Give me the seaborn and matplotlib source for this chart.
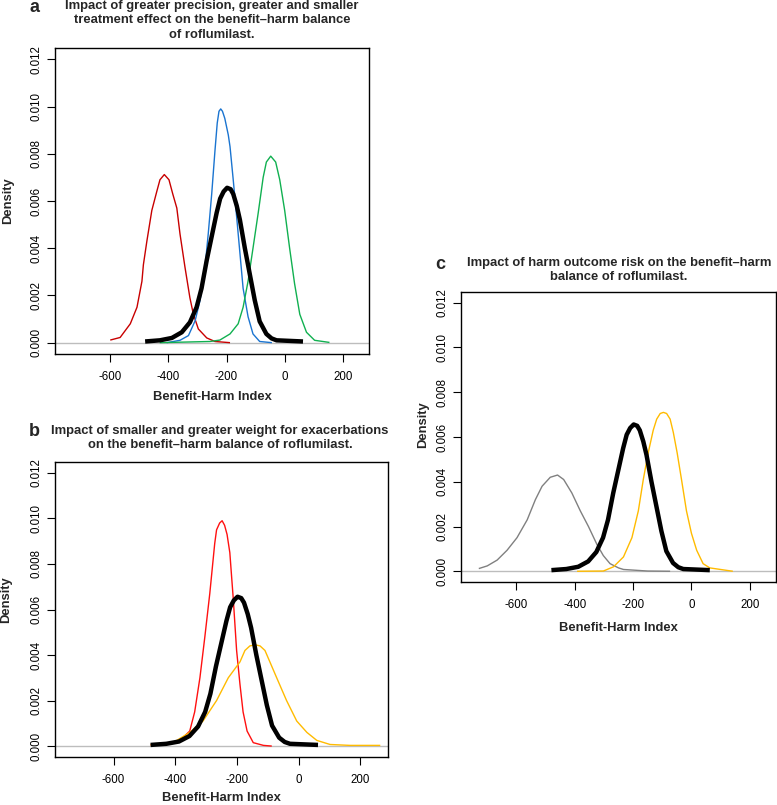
import matplotlib
matplotlib.use("Agg")
import matplotlib.pyplot as plt
import seaborn as sns

# base case density (black, same in every panel)
base_x = [-480, -429, -388, -354, -326, -303, -286, -268, -251, -234, -222, -210, -198,
          -186, -177, -165, -154, -137, -120, -103, -86, -63, -45, -28, 63]
base_y = [0.00005, 0.0001, 0.0002, 0.00044, 0.00086, 0.0015, 0.0023, 0.0035, 0.0045, 0.0055,
          0.0061, 0.0064, 0.00656, 0.0065, 0.0063, 0.0058, 0.0052, 0.0040, 0.0029, 0.0018,
          0.0009, 0.00037, 0.00018, 0.0001, 0.00005]

# panel a
red_a_x = [-600, -566, -531, -508, -491, -486, -474, -457, -440, -429, -414, -398, -385,
           -371, -360, -343, -326, -314, -297, -268, -240, -188]
red_a_y = [0.00011, 0.00022, 0.0008, 0.0015, 0.0026, 0.0033, 0.0043, 0.0056, 0.0064, 0.0069,
           0.00712, 0.0069, 0.0063, 0.0057, 0.0046, 0.0032, 0.0019, 0.0012, 0.00058, 0.0002,
           0.00005, 0.0]
blue_a_x = [-406, -360, -331, -308, -291, -274, -263, -251, -240, -232, -226, -220, -214,
            -206, -194, -188, -177, -165, -154, -143, -126, -109, -86, -44]
blue_a_y = [0.0, 0.0001, 0.0003, 0.00093, 0.0018, 0.0032, 0.0046, 0.0063, 0.0081, 0.0093,
            0.0098, 0.0099, 0.0098, 0.0095, 0.0088, 0.0083, 0.0069, 0.0053, 0.0038, 0.0023,
            0.0011, 0.00037, 0.00005, 0.0]
green_a_x = [-430, -257, -223, -188, -160, -143, -126, -109, -91, -74, -63, -48, -31, -17,
             0, 17, 34, 52, 75, 103, 154]
green_a_y = [0.0, 0.00005, 0.00011, 0.00037, 0.0008, 0.0015, 0.0026, 0.0040, 0.0055, 0.0070,
             0.00765, 0.0079, 0.00765, 0.0069, 0.0056, 0.0040, 0.0025, 0.0012, 0.00044,
             0.0001, 0.00001]

# panel b
red_b_x = [-480, -407, -375, -353, -337, -320, -304, -288, -272, -266, -256, -248, -240,
           -232, -223, -217, -212, -201, -190, -180, -167, -147, -114, -87]
red_b_y = [0.00005, 0.00015, 0.00037, 0.00066, 0.0015, 0.0030, 0.0048, 0.0067, 0.0089,
           0.0095, 0.0098, 0.0099, 0.0097, 0.0093, 0.0085, 0.0074, 0.0065, 0.0042, 0.0027,
           0.0015, 0.00066, 0.00015, 0.00003, 0.0]
yel_b_x = [-480, -407, -353, -310, -266, -228, -190, -174, -158, -141, -125, -109, -90, -71,
           -39, -6, 27, 59, 102, 167, 265]
yel_b_y = [0.00005, 0.00015, 0.0006, 0.0011, 0.0020, 0.0030, 0.0037, 0.0042, 0.0044, 0.00445,
           0.0044, 0.0042, 0.0036, 0.0030, 0.0020, 0.0011, 0.0006, 0.00025, 0.00007, 0.00003,
           0.00003]

# panel c
gray_c_x = [-729, -700, -666, -632, -598, -563, -535, -512, -484, -459, -438, -410, -381,
            -353, -324, -302, -279, -250, -233, -150, -73]
gray_c_y = [0.00012, 0.00024, 0.0005, 0.00094, 0.0015, 0.0023, 0.0032, 0.0038, 0.0042,
            0.0043, 0.0041, 0.0035, 0.0027, 0.0020, 0.0012, 0.0007, 0.00034, 0.00015,
            0.00008, 0.00001, 0.0]
yel_c_x = [-392, -302, -267, -233, -204, -182, -165, -148, -131, -119, -107, -96, -85, -73,
           -62, -49, -34, -17, 0, 18, 40, 63, 142]
yel_c_y = [0.0, 0.00001, 0.0002, 0.00064, 0.0015, 0.0027, 0.0041, 0.0053, 0.0063, 0.0068,
           0.00705, 0.0071, 0.00705, 0.0068, 0.0062, 0.0053, 0.0041, 0.0027, 0.0017, 0.00094,
           0.00034, 0.00015, 0.0]

x_ticks = [-600, -400, -200, 0, 200]
y_ticks = [0.0, 0.002, 0.004, 0.006, 0.008, 0.010, 0.012]

titles = {
    "a": "Impact of greater precision, greater and smaller\ntreatment effect on the benefit\u2013harm balance\nof roflumilast.",
    "b": "Impact of smaller and greater weight for exacerbations\non the benefit\u2013harm balance of roflumilast.",
    "c": "Impact of harm outcome risk on the benefit\u2013harm\nbalance of roflumilast.",
}

sns.set_style("white")
plt.rcParams["font.family"] = ["Liberation Sans", "DejaVu Sans"]

W, H = 777, 805
fig = plt.figure(figsize=(W / 100, H / 100), dpi=100)


def px_axes(left, top, right, bottom):
    return fig.add_axes([left / W, 1 - bottom / H, (right - left) / W, (bottom - top) / H])


def ftext(x, y, s, **kw):
    fig.text(x / W, 1 - y / H, s, **kw)


def style_axes(ax):
    ax.set_xlim(-790, 290)
    ax.set_ylim(-0.00048, 0.01248)
    ax.axhline(0, color="#bdbdbd", lw=1, zorder=0)
    ax.set_xticks(x_ticks)
    ax.set_xticklabels([str(t) for t in x_ticks])
    ax.set_yticks(y_ticks)
    ax.set_yticklabels([f"{t:.3f}" for t in y_ticks], rotation=90, va="center")
    ax.tick_params(axis="both", direction="out", length=6, width=0.8, colors="black",
                   labelsize=8.3, left=True, bottom=True)
    ax.tick_params(axis="y", pad=3)
    ax.tick_params(axis="x", pad=6)
    for sp in ax.spines.values():
        sp.set_visible(True)
        sp.set_color("black")
        sp.set_linewidth(1)
    ax.set_xlabel("")
    ax.set_ylabel("")


def curve(ax, xs, ys, color, lw=1.0):
    sns.lineplot(x=xs, y=ys, ax=ax, color=color, lw=lw, sort=False,
                 solid_joinstyle="round", solid_capstyle="butt")


# panel a
ax_a = px_axes(55, 48, 369, 354)
curve(ax_a, red_a_x, red_a_y, "#c80000")
curve(ax_a, blue_a_x, blue_a_y, "#1a74d0")
curve(ax_a, green_a_x, green_a_y, "#10b050")
curve(ax_a, base_x, base_y, "black", lw=3.2)
style_axes(ax_a)

# panel b
ax_b = px_axes(55, 462, 388, 757)
curve(ax_b, red_b_x, red_b_y, "#ff1010")
curve(ax_b, yel_b_x, yel_b_y, "#ffbb00")
curve(ax_b, base_x, base_y, "black", lw=3.2)
style_axes(ax_b)

# panel c
ax_c = px_axes(461, 292, 776, 582)
curve(ax_c, gray_c_x, gray_c_y, "#808080")
curve(ax_c, yel_c_x, yel_c_y, "#ffbb00")
curve(ax_c, base_x, base_y, "black", lw=3.2)
style_axes(ax_c)

# titles, panel letters, axis labels
tkw = dict(ha="center", va="top", fontsize=9.4, fontweight="bold", linespacing=1.25)
ftext(212, 0, titles["a"], **tkw)
ftext(220, 425, titles["b"], **tkw)
ftext(619, 257, titles["c"], **tkw)

lkw = dict(ha="center", va="center", fontsize=13, fontweight="bold")
ftext(35, 8, "a", **lkw)
ftext(34, 432, "b", **lkw)
ftext(440, 264, "c", **lkw)

xkw = dict(ha="center", va="center", fontsize=9.4, fontweight="bold")
ftext(212, 397, "Benefit-Harm Index", **xkw)
ftext(221, 798, "Benefit-Harm Index", **xkw)
ftext(618, 628, "Benefit-Harm Index", **xkw)

ykw = dict(ha="center", va="center", fontsize=9.4, fontweight="bold", rotation=90)
ftext(8, 201, "Density", **ykw)
ftext(6, 600, "Density", **ykw)
ftext(423, 425, "Density", **ykw)

fig.savefig("out.png", dpi=100)
